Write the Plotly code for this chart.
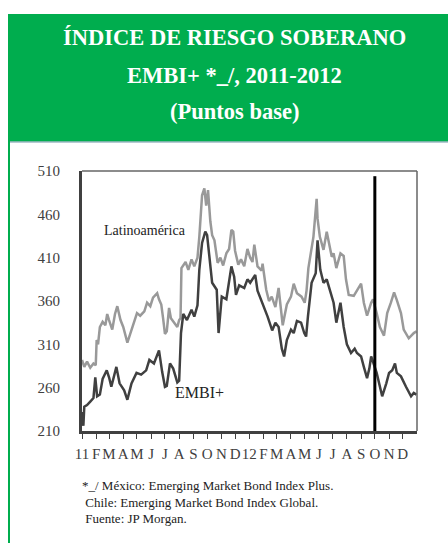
import plotly.graph_objects as go

# --- data ---
lat_dates = [
    "2011-01-01", "2011-01-06", "2011-01-12", "2011-01-19", "2011-01-26", "2011-01-31",
    "2011-02-02", "2011-02-05", "2011-02-09", "2011-02-15", "2011-02-21", "2011-02-25",
    "2011-03-01", "2011-03-08", "2011-03-14", "2011-03-19", "2011-03-26", "2011-04-01",
    "2011-04-10", "2011-04-16", "2011-04-23", "2011-05-01", "2011-05-08", "2011-05-17",
    "2011-05-23", "2011-05-30", "2011-06-05", "2011-06-14", "2011-06-18", "2011-06-23",
    "2011-06-27", "2011-07-01", "2011-07-05", "2011-07-10", "2011-07-14", "2011-07-21",
    "2011-07-28", "2011-08-01", "2011-08-04", "2011-08-06", "2011-08-15", "2011-08-21",
    "2011-08-28", "2011-09-03", "2011-09-10", "2011-09-14", "2011-09-20", "2011-09-25",
    "2011-09-29", "2011-10-03", "2011-10-08", "2011-10-12", "2011-10-17", "2011-10-24",
    "2011-10-30", "2011-11-05", "2011-11-12", "2011-11-18", "2011-11-23", "2011-11-27",
    "2011-12-01", "2011-12-08", "2011-12-14", "2011-12-21", "2011-12-28", "2012-01-03",
    "2012-01-08", "2012-01-12", "2012-01-19", "2012-01-28", "2012-01-30", "2012-02-07",
    "2012-02-13", "2012-02-19", "2012-02-27", "2012-03-05", "2012-03-10", "2012-03-14",
    "2012-03-17", "2012-03-23", "2012-04-01", "2012-04-07", "2012-04-14", "2012-04-24",
    "2012-05-01", "2012-05-05", "2012-05-09", "2012-05-16", "2012-05-20", "2012-05-27",
    "2012-05-29", "2012-06-03", "2012-06-11", "2012-06-18", "2012-06-22", "2012-06-29",
    "2012-07-03", "2012-07-09", "2012-07-18", "2012-07-25", "2012-07-30", "2012-08-05",
    "2012-08-16", "2012-08-23", "2012-09-01", "2012-09-07", "2012-09-14", "2012-09-23",
    "2012-09-27", "2012-10-05", "2012-10-12", "2012-10-21", "2012-10-28", "2012-11-05",
    "2012-11-12", "2012-11-18", "2012-11-27", "2012-12-03", "2012-12-14", "2012-12-25",
    "2012-12-31",
]
lat_values = [
    292, 284, 290, 283, 288, 286,
    315, 310, 330, 336, 332, 345,
    338, 327, 345, 354, 338, 330,
    312, 322, 333, 346, 343, 348,
    358, 354, 364, 369, 362, 356,
    340, 322, 325, 352, 340, 335,
    330, 338, 340, 398, 405, 396,
    408, 400, 410, 434, 482, 490,
    470, 488, 452, 436, 430, 404,
    410, 401, 415, 420, 442, 440,
    418, 402, 408, 400, 420, 410,
    405, 425, 400, 395, 403, 373,
    360, 365, 353, 375, 353, 332,
    340, 356, 365, 380, 369, 365,
    358, 372, 398, 418, 434, 478,
    455, 434, 419, 440, 430, 411,
    415, 398, 415, 412, 385, 367,
    366, 372, 380, 358, 343, 358,
    362, 346, 330, 320, 346, 358,
    370, 361, 346, 327, 317, 323,
    325,
]

embi_dates = [
    "2011-01-01", "2011-01-04", "2011-01-06", "2011-01-12", "2011-01-19", "2011-01-26",
    "2011-01-30", "2011-02-03", "2011-02-09", "2011-02-15", "2011-02-24", "2011-03-01",
    "2011-03-06", "2011-03-17", "2011-03-24", "2011-04-03", "2011-04-10", "2011-04-19",
    "2011-04-30", "2011-05-10", "2011-05-21", "2011-05-28", "2011-06-07", "2011-06-18",
    "2011-06-25", "2011-07-01", "2011-07-05", "2011-07-12", "2011-07-19", "2011-07-28",
    "2011-08-01", "2011-08-05", "2011-08-10", "2011-08-18", "2011-08-28", "2011-09-03",
    "2011-09-10", "2011-09-14", "2011-09-20", "2011-09-27", "2011-10-01", "2011-10-06",
    "2011-10-12", "2011-10-22", "2011-10-26", "2011-11-02", "2011-11-12", "2011-11-23",
    "2011-11-29", "2011-12-03", "2011-12-10", "2011-12-21", "2011-12-28", "2012-01-03",
    "2012-01-14", "2012-01-19", "2012-01-28", "2012-02-03", "2012-02-10", "2012-02-20",
    "2012-02-27", "2012-03-05", "2012-03-12", "2012-03-17", "2012-03-23", "2012-04-01",
    "2012-04-07", "2012-04-14", "2012-04-23", "2012-04-30", "2012-05-04", "2012-05-08",
    "2012-05-16", "2012-05-25", "2012-05-29", "2012-06-04", "2012-06-11", "2012-06-18",
    "2012-06-27", "2012-07-03", "2012-07-09", "2012-07-18", "2012-07-25", "2012-08-01",
    "2012-08-10", "2012-08-18", "2012-08-23", "2012-09-01", "2012-09-07", "2012-09-14",
    "2012-09-19", "2012-09-23", "2012-10-05", "2012-10-10", "2012-10-17", "2012-10-26",
    "2012-11-01", "2012-11-08", "2012-11-14", "2012-11-18", "2012-11-27", "2012-12-08",
    "2012-12-19", "2012-12-25", "2012-12-31",
]
embi_values = [
    232, 216, 238, 240, 244, 248,
    272, 250, 252, 270, 280, 272,
    261, 284, 265, 257, 246, 265,
    277, 275, 280, 292, 288, 303,
    278, 261, 262, 288, 282, 266,
    268, 323, 345, 338, 350, 342,
    355, 396, 427, 440, 436, 411,
    381, 373, 323, 365, 362, 400,
    388, 367, 378, 375, 385, 381,
    390, 372, 360, 350, 342, 326,
    335, 330, 305, 296, 315, 327,
    323, 337, 335, 323, 319, 342,
    381, 392, 430, 396, 381, 385,
    369, 358, 335, 358, 330, 310,
    300, 305, 300, 296, 284, 271,
    282, 296, 277, 265, 250, 265,
    277, 280, 288, 277, 273, 261,
    250, 254, 252,
]

month_ticks = [f"{y}-{m:02d}-01" for y in (2011, 2012) for m in range(1, 13)]
month_labels = ["11", "F", "M", "A", "M", "J", "J", "A", "S", "O", "N", "D",
                "12", "F", "M", "A", "M", "J", "J", "A", "S", "O", "N", "D"]
y_ticks = [210, 260, 310, 360, 410, 460, 510]

title_lines = ["ÍNDICE DE RIESGO SOBERANO", "EMBI+ *_/, 2011-2012", "(Puntos base)"]
notes = ["*_/ México: Emerging Market Bond Index Plus.",
         " Chile: Emerging Market Bond Index Global.",
         " Fuente: JP Morgan."]

W, H = 448, 543
L, R, T, B = 82, 417, 171, 431
GREEN = "#00AD4E"
SERIF = "Liberation Serif"


def px(x):
    return (x - L) / (R - L)


def py(y):
    return (B - y) / (B - T)


fig = go.Figure()
fig.add_trace(go.Scatter(x=lat_dates, y=lat_values, mode="lines",
                         line=dict(color="#999999", width=2.5), name="Latinoamérica"))
fig.add_trace(go.Scatter(x=embi_dates, y=embi_values, mode="lines",
                         line=dict(color="#404040", width=2.5), name="EMBI+"))

shapes = [
    # header
    dict(type="rect", xref="paper", yref="paper", x0=px(8), x1=px(452), y0=py(142), y1=py(15),
         fillcolor=GREEN, line=dict(width=0), layer="below"),
    # outer frame
    dict(type="rect", xref="paper", yref="paper", x0=px(9), x1=px(455), y0=py(560), y1=py(15),
         line=dict(color=GREEN, width=2)),
    dict(type="line", xref="paper", yref="paper", x0=px(10), x1=px(452), y0=py(142), y1=py(142),
         line=dict(color="#9fb8c4", width=1.5)),
    # top / right border of plot
    dict(type="line", xref="paper", yref="paper", x0=0, x1=1, y0=1, y1=1,
         line=dict(color="#666666", width=1.5)),
    dict(type="line", xref="paper", yref="paper", x0=1, x1=1, y0=0, y1=1,
         line=dict(color="#666666", width=1.5)),
    # vertical marker
    dict(type="line", xref="x", yref="y", x0="2012-10-01", x1="2012-10-01", y0=210, y1=504,
         line=dict(color="black", width=3)),
]

annotations = [
    dict(text="Latinoamérica", x="2011-05-19", y=441, xref="x", yref="y", showarrow=False,
         font=dict(family=SERIF, size=14, color="#222222")),
    dict(text="EMBI+", x="2011-09-14", y=254, xref="x", yref="y", showarrow=False,
         font=dict(family=SERIF, size=16, color="#222222")),
]
for text, yc in zip(title_lines, [37, 76, 112]):
    annotations.append(dict(text=f"<b>{text}</b>", x=px(234), y=py(yc), xref="paper", yref="paper",
                            showarrow=False, xanchor="center", yanchor="middle",
                            font=dict(family=SERIF, size=22.5, color="white")))
for text, yc in zip(notes, [485, 502, 518]):
    annotations.append(dict(text=text, x=px(80), y=py(yc), xref="paper", yref="paper",
                            showarrow=False, xanchor="left", yanchor="middle",
                            font=dict(family=SERIF, size=13, color="#222222")))

fig.update_layout(
    width=W, height=H,
    margin=dict(l=L, r=W - R, t=T, b=H - B),
    paper_bgcolor="white", plot_bgcolor="white",
    showlegend=False,
    shapes=shapes, annotations=annotations,
    xaxis=dict(range=["2011-01-01", "2013-01-01"], tickvals=month_ticks, ticktext=month_labels,
               ticks="outside", ticklen=5, tickwidth=1, tickcolor="#404040",
               showline=True, linewidth=3, linecolor="#404040", showgrid=False, zeroline=False,
               tickangle=0, ticklabelstandoff=2,
               tickfont=dict(family=SERIF, size=15, color="#404040")),
    yaxis=dict(range=[210, 510], tickvals=y_ticks, ticks="",
               showline=True, linewidth=3, linecolor="#404040", showgrid=False, zeroline=False,
               ticklabelstandoff=16,
               tickfont=dict(family=SERIF, size=15, color="#404040")),
)

fig.write_html("out.html", config={"displayModeBar": False},
               post_script="document.body.style.margin='0';")
